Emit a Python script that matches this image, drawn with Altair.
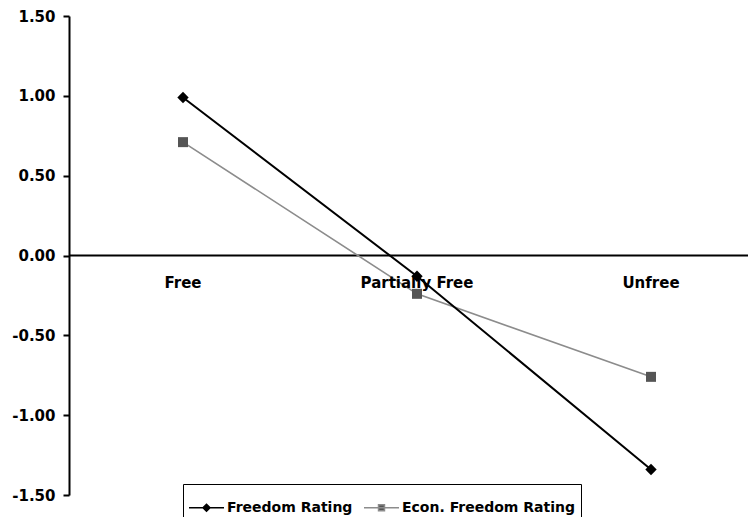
import altair as alt
import pandas as pd

categories = ["Free", "Partially Free", "Unfree"]
series = ["Freedom Rating", "Econ. Freedom Rating"]
freedom = [0.99, -0.13, -1.34]
econ = [0.71, -0.24, -0.76]
y_ticks = [-1.5, -1.0, -0.5, 0.0, 0.5, 1.0, 1.5]

rows = []
for s, vals in zip(series, [freedom, econ]):
    for c, v in zip(categories, vals):
        rows.append({"category": c, "series": s, "value": v})
df = pd.DataFrame(rows)
cat_df = pd.DataFrame({"category": categories})
zero_df = pd.DataFrame({"y": [0.0]})

W, H = 679, 479
FONT = "DejaVu Sans"

xenc = alt.X("category:N", sort=categories,
             scale=alt.Scale(range=[114, 582], padding=0), axis=None)
yscale = alt.Scale(domain=[-1.5, 1.5], nice=False, zero=False)
yenc = alt.Y("value:Q", scale=yscale, title=None,
             axis=alt.Axis(values=y_ticks,
                           labelExpr="replace(format(datum.value, '.2f'), '\u2212', '-')",
                           grid=False, domainColor="black", domainWidth=2,
                           tickColor="black", tickWidth=2, tickSize=6,
                           labelFont=FONT, labelFontSize=15, labelFontWeight="bold",
                           labelColor="black", labelPadding=8))

base = alt.Chart(df)

econ_line = base.transform_filter(alt.datum.series == series[1]).mark_line(
    color="#8c8c8c", strokeWidth=1.6).encode(x=xenc, y=yenc)
free_line = base.transform_filter(alt.datum.series == series[0]).mark_line(
    color="#000000", strokeWidth=2).encode(x=xenc, y=yenc)
econ_pts = base.transform_filter(alt.datum.series == series[1]).mark_point(
    shape="square", filled=True, color="#555555", size=100, opacity=1).encode(x=xenc, y=yenc)
free_pts = base.transform_filter(alt.datum.series == series[0]).mark_point(
    shape="diamond", filled=True, color="#000000", size=130, opacity=1).encode(x=xenc, y=yenc)

zero_rule = alt.Chart(zero_df).mark_rule(color="black", strokeWidth=2).encode(
    y=alt.Y("y:Q", scale=yscale), x=alt.value(0), x2=alt.value(W))

cat_labels = alt.Chart(cat_df).mark_text(
    font=FONT, fontSize=15, fontWeight="bold", color="black", baseline="middle", dy=27
).encode(x=xenc, y=alt.datum(0), text="category:N")

legend_layer = base.mark_point(filled=True, opacity=0, strokeWidth=1.5).encode(
    x=xenc, y=yenc,
    shape=alt.Shape("series:N", sort=series,
                    scale=alt.Scale(domain=series,
                                    range=["M-1,0H1M0,-0.2L0.2,0L0,0.2L-0.2,0Z",
                                           "M-1,0H1M-0.17,-0.17H0.17V0.17H-0.17Z"]),
                    legend=alt.Legend(title=None, orient="none", legendX=114, legendY=468,
                                      direction="horizontal", strokeColor="black",
                                      padding=5, symbolSize=1225, symbolOpacity=1,
                                      symbolStrokeWidth=1.5, labelLimit=0,
                                      labelFont=FONT, labelFontSize=14,
                                      labelFontWeight="bold", labelColor="black",
                                      labelOffset=2, columnPadding=8)),
    color=alt.Color("series:N", sort=series,
                    scale=alt.Scale(domain=series, range=["#000000", "#555555"])),
    stroke=alt.Stroke("series:N", sort=series,
                      scale=alt.Scale(domain=series, range=["#000000", "#8c8c8c"])),
)

chart = alt.layer(zero_rule, econ_line, free_line, econ_pts, free_pts, cat_labels, legend_layer).properties(
    width=W, height=H,
    autosize=alt.AutoSizeParams(type="none"),
    padding={"left": 61, "top": 8, "right": 0, "bottom": 22},
).configure(background="white").configure_view(stroke=None)

chart.save("out.html", embed_options={"renderer": "svg", "actions": False})
